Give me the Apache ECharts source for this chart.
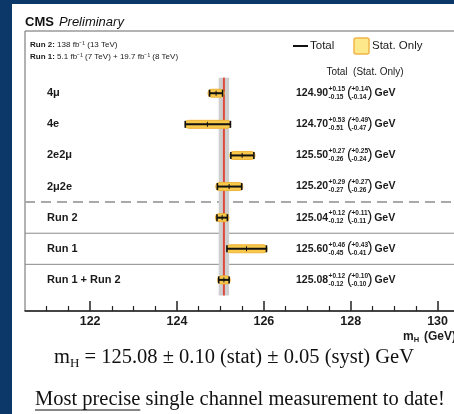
<!DOCTYPE html>
<html><head><meta charset="utf-8">
<script src="https://cdn.jsdelivr.net/npm/echarts@6/dist/echarts.min.js"></script>
<style>html,body{margin:0;padding:0;background:#fff;overflow:hidden}#chart{width:454px;height:414px}</style>
</head><body><div id="chart"></div>
<script>
// Higgs boson mass measurements per channel and per run period
const channels = ['4\u03bc', '4e', '2e2\u03bc', '2\u03bc2e', 'Run 2', 'Run 1', 'Run 1 + Run 2'];
const massValues = [124.90, 124.70, 125.50, 125.20, 125.04, 125.60, 125.08];
const totalUp   = [0.15, 0.53, 0.27, 0.29, 0.12, 0.46, 0.12];
const totalDown = [0.15, 0.51, 0.26, 0.27, 0.12, 0.45, 0.12];
const statUp    = [0.14, 0.49, 0.25, 0.27, 0.11, 0.43, 0.10];
const statDown  = [0.14, 0.47, 0.24, 0.26, 0.11, 0.41, 0.10];
const rowSlots  = [2, 3, 4, 5, 6, 7, 8];
const separatorSlots = [5.5, 6.5, 7.5];
const separatorDashed = [true, false, false];
const xTickLabels = [122, 124, 126, 128, 130];
const combinedMass = 125.08, combinedStat = 0.10, combinedSyst = 0.05;

const SANS = '"Liberation Sans", Arial, Helvetica, sans-serif';
const SERIF = '"Liberation Serif", "Times New Roman", serif';
const measureCtx = document.createElement('canvas').getContext('2d');
function textWidth(t, font) { measureCtx.font = font; return measureCtx.measureText(t).width; }
function txt(x, y, text, font, opts) {
  opts = opts || {};
  return {
    type: 'text', x: x, y: y, silent: true,
    style: {
      text: text, font: font, fill: opts.fill || '#1a1a1a',
      align: opts.align || 'left', textAlign: opts.align || 'left',
      verticalAlign: 'middle', textVerticalAlign: 'middle'
    }
  };
}

const minorTicks = [];
for (let v = 121; v <= 130.5; v += 0.5) if (xTickLabels.indexOf(v) < 0) minorTicks.push(v);

const rowData = channels.map((c, i) => [massValues[i], rowSlots[i], totalDown[i], totalUp[i], statDown[i], statUp[i], i]);

function renderBar(params, api) {
  const v = api.value(0), row = api.value(1);
  const c = api.coord([v, row]);
  const y = c[1];
  const tl = api.coord([v - api.value(2), row])[0];
  const tr = api.coord([v + api.value(3), row])[0];
  const sl = api.coord([v - api.value(4), row])[0];
  const sr = api.coord([v + api.value(5), row])[0];
  const h = 8;
  return { type: 'group', children: [
    { type: 'rect', shape: { x: sl - 2, y: y - h / 2, width: sr - sl + 4, height: h, r: 3.5 },
      style: { fill: '#f7c84a', stroke: '#efb43a', lineWidth: 1 } },
    { type: 'line', shape: { x1: tl, y1: y, x2: tr, y2: y }, style: { stroke: '#111', lineWidth: 2 } },
    { type: 'line', shape: { x1: tl, y1: y - 3.5, x2: tl, y2: y + 3.5 }, style: { stroke: '#111', lineWidth: 1.6 } },
    { type: 'line', shape: { x1: tr, y1: y - 3.5, x2: tr, y2: y + 3.5 }, style: { stroke: '#111', lineWidth: 1.6 } },
    { type: 'line', shape: { x1: c[0], y1: y - 2.5, x2: c[0], y2: y + 2.5 }, style: { stroke: '#111', lineWidth: 1 } }
  ]};
}

function renderValueText(params, api) {
  const i = api.value(6);
  const y = api.coord([massValues[i], rowSlots[i]])[1];
  const fMain = 'bold 10.5px ' + SANS;
  const fSmall = 'bold 6.5px ' + SANS;
  const fParen = '15px ' + SANS;
  const main = massValues[i].toFixed(2);
  const sup = '+' + totalUp[i].toFixed(2), sub = '-' + totalDown[i].toFixed(2);
  const ssup = '+' + statUp[i].toFixed(2), ssub = '-' + statDown[i].toFixed(2);
  let x = 296;
  const kids = [];
  kids.push(txt(x, y, main, fMain));
  x += textWidth(main, fMain) + 0.5;
  kids.push(txt(x, y - 4, sup, fSmall));
  kids.push(txt(x, y + 4, sub, fSmall));
  x += Math.max(textWidth(sup, fSmall), textWidth(sub, fSmall)) + 2;
  kids.push(txt(x, y - 0.5, '(', fParen));
  x += textWidth('(', fParen) - 0.5;
  kids.push(txt(x, y - 4, ssup, fSmall));
  kids.push(txt(x, y + 4, ssub, fSmall));
  x += Math.max(textWidth(ssup, fSmall), textWidth(ssub, fSmall)) - 0.5;
  kids.push(txt(x, y - 0.5, ')', fParen));
  x += textWidth(')', fParen) + 2;
  kids.push(txt(x, y, 'GeV', fMain));
  return { type: 'group', children: kids };
}

function renderRowLabel(params, api) {
  const i = api.value(6);
  const y = api.coord([massValues[i], rowSlots[i]])[1];
  return txt(47, y, channels[i], 'bold 11px ' + SANS);
}

function renderSeparator(params, api) {
  const i = params.dataIndex;
  const cs = params.coordSys;
  const y = api.coord([120.5, api.value(0)])[1];
  return { type: 'line', shape: { x1: cs.x, y1: y, x2: cs.x + cs.width, y2: y },
    style: separatorDashed[i] ? { stroke: '#a8a8a8', lineWidth: 2, lineDash: [10, 6] }
                              : { stroke: '#8a8a8a', lineWidth: 1 } };
}

function renderCombined(params, api) {
  const v = api.value(0);
  const top = api.coord([v, api.value(1)]), bot = api.coord([v, api.value(2)]);
  const l = api.coord([v - api.value(3), 0])[0], r = api.coord([v + api.value(4), 0])[0];
  return { type: 'group', children: [
    { type: 'rect', shape: { x: l, y: top[1], width: r - l, height: bot[1] - top[1] }, style: { fill: '#cfcfcf' } },
    { type: 'line', shape: { x1: top[0], y1: top[1], x2: bot[0], y2: bot[1] }, style: { stroke: '#dc4a3c', lineWidth: 2 } }
  ]};
}

const chart = echarts.init(document.getElementById('chart'), null, { renderer: 'canvas' });

// header, legend and footer text
const g = [];
g.push({ type: 'rect', shape: { x: 0, y: 0, width: 454, height: 4 }, style: { fill: '#0b3868' }, silent: true });
g.push({ type: 'rect', shape: { x: 0, y: 0, width: 12, height: 414 }, style: { fill: '#0b3868' }, silent: true });
const fCms = 'bold 13px ' + SANS;
g.push(txt(25, 22, 'CMS', fCms, { fill: '#111' }));
g.push(txt(25 + textWidth('CMS', fCms) + 5, 22, 'Preliminary', 'italic 13px ' + SANS, { fill: '#111' }));
const fLumiB = 'bold 8px ' + SANS, fLumi = '8px ' + SANS;
g.push(txt(30, 45, 'Run 2:', fLumiB));
g.push(txt(30 + textWidth('Run 2:', fLumiB), 45, ' 138 fb\u207b\u00b9 (13 TeV)', fLumi));
g.push(txt(30, 57, 'Run 1:', fLumiB));
g.push(txt(30 + textWidth('Run 1:', fLumiB), 57, ' 5.1 fb\u207b\u00b9 (7 TeV) + 19.7 fb\u207b\u00b9 (8 TeV)', fLumi));
g.push({ type: 'line', shape: { x1: 293, y1: 46, x2: 308, y2: 46 }, style: { stroke: '#111', lineWidth: 2 }, silent: true });
g.push(txt(310, 46, 'Total', '11.5px ' + SANS));
g.push({ type: 'rect', shape: { x: 354, y: 38, width: 15, height: 16, r: 2 }, style: { fill: '#fde88c', stroke: '#f0b54a', lineWidth: 1.5 }, silent: true });
g.push(txt(372, 46, 'Stat. Only', '11.5px ' + SANS));
g.push(txt(365, 72, 'Total  (Stat. Only)', '10px ' + SANS, { align: 'center' }));
// axis title
const fAx = 'bold 12px ' + SANS;
g.push(txt(403, 337, 'm', fAx));
g.push(txt(403 + textWidth('m', fAx), 340, 'H', 'bold 7.5px ' + SANS));
g.push(txt(424, 337, '(GeV)', fAx));
// footer
const fFoot = '20.5px ' + SERIF, fSub = '13px ' + SERIF;
const footRest = ' = ' + combinedMass.toFixed(2) + ' \u00b1 ' + combinedStat.toFixed(2) + ' (stat) \u00b1 ' + combinedSyst.toFixed(2) + ' (syst) GeV';
const line1W = textWidth('m', fFoot) + textWidth('H', fSub) + textWidth(footRest, fFoot);
let fx = 234 - line1W / 2;
g.push(txt(fx, 358, 'm', fFoot, { fill: '#111' }));
fx += textWidth('m', fFoot);
g.push(txt(fx, 364, 'H', fSub, { fill: '#111' }));
fx += textWidth('H', fSub);
g.push(txt(fx, 358, footRest, fFoot, { fill: '#111' }));
const hl = 'Most precise';
g.push(txt(35, 400, hl, fFoot, { fill: '#111' }));
g.push(txt(35 + textWidth(hl, fFoot), 400, ' single channel measurement to date!', fFoot, { fill: '#111' }));
g.push({ type: 'line', shape: { x1: 35, y1: 410, x2: 35 + textWidth(hl, fFoot), y2: 410 }, style: { stroke: '#111', lineWidth: 1 }, silent: true });

const gridBox = { left: 25, top: 31, width: 456, height: 280, outerBoundsMode: 'none', containLabel: false };

chart.setOption({
  animation: false,
  backgroundColor: '#ffffff',
  grid: [
    Object.assign({ show: true, borderColor: '#666', borderWidth: 1 }, gridBox),
    Object.assign({ show: false }, gridBox)
  ],
  xAxis: [
    { type: 'value', gridIndex: 0, min: 120.5, max: 131, position: 'bottom',
      axisLine: { show: true, onZero: false, lineStyle: { color: '#222', width: 1.5 } },
      axisTick: { show: true, inside: true, length: 10, customValues: xTickLabels, lineStyle: { color: '#222', width: 1.5 } },
      axisLabel: { customValues: xTickLabels, color: '#1a1a1a', fontWeight: 'bold', fontSize: 12.5, fontFamily: SANS, margin: 4 },
      splitLine: { show: false } },
    { type: 'value', gridIndex: 1, min: 120.5, max: 131, position: 'bottom',
      axisLine: { show: false, onZero: false },
      axisTick: { show: true, inside: true, length: 5, customValues: minorTicks, lineStyle: { color: '#222', width: 1.2 } },
      axisLabel: { show: false }, splitLine: { show: false } }
  ],
  yAxis: [
    { type: 'value', gridIndex: 0, min: 0, max: 9, inverse: true, show: false, splitLine: { show: false } },
    { type: 'value', gridIndex: 1, min: 0, max: 9, inverse: true, show: false, splitLine: { show: false } }
  ],
  graphic: g,
  series: [
    { type: 'custom', name: 'separators', silent: true, z: 1, renderItem: renderSeparator, data: separatorSlots.map(s => [s]) },
    { type: 'custom', name: 'combined', silent: true, z: 2, renderItem: renderCombined,
      data: [[combinedMass, 1.5, 8.5, totalDown[6], totalUp[6]]] },
    { type: 'custom', name: 'measurements', silent: true, z: 3, renderItem: renderBar, data: rowData },
    { type: 'custom', name: 'values', silent: true, z: 4, renderItem: renderValueText, data: rowData },
    { type: 'custom', name: 'labels', silent: true, z: 4, renderItem: renderRowLabel, data: rowData }
  ]
});
</script></body></html>
